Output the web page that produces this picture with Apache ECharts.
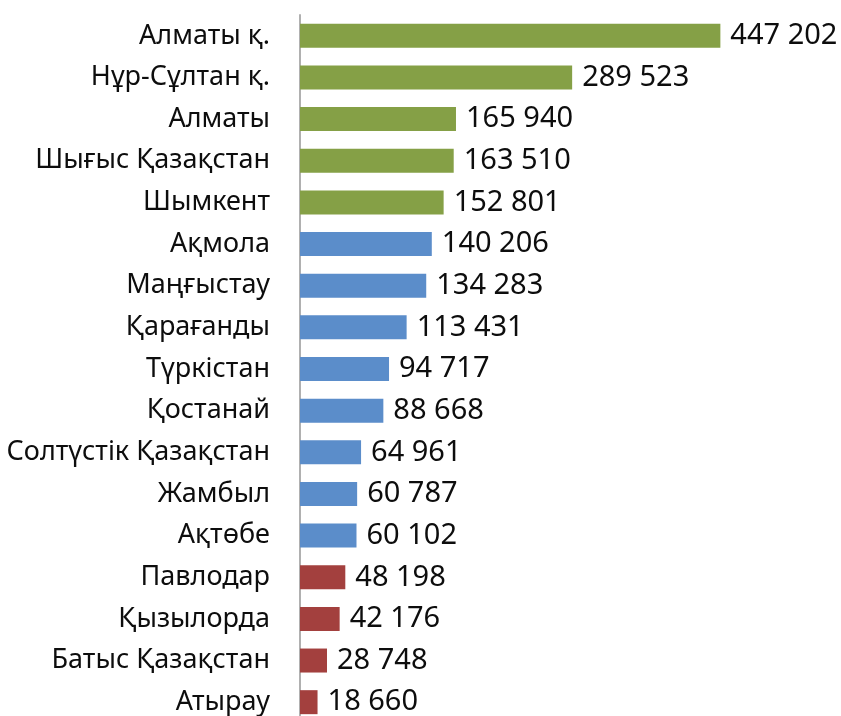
<!DOCTYPE html>
<html>
<head>
<meta charset="utf-8">
<script src="https://cdn.jsdelivr.net/npm/echarts@6/dist/echarts.min.js"></script>
<style>
  html, body { margin: 0; padding: 0; background: #fff; overflow: hidden; }
  #chart { width: 841px; height: 723px; }
</style>
</head>
<body>
<div id="chart"></div>
<script>
var categories = ['Алматы қ.', 'Нұр-Сұлтан қ.', 'Алматы', 'Шығыс Қазақстан', 'Шымкент',
  'Ақмола', 'Маңғыстау', 'Қарағанды', 'Түркістан', 'Қостанай', 'Солтүстік Қазақстан',
  'Жамбыл', 'Ақтөбе', 'Павлодар', 'Қызылорда', 'Батыс Қазақстан', 'Атырау'];
var values = [447202, 289523, 165940, 163510, 152801, 140206, 134283, 113431, 94717,
  88668, 64961, 60787, 60102, 48198, 42176, 28748, 18660];
// group of each bar: 0 green, 1 blue, 2 red
var groups = [0, 0, 0, 0, 0, 1, 1, 1, 1, 1, 1, 1, 1, 2, 2, 2, 2];
var groupColors = ['#85a046', '#5b8dca', '#a3403e'];

function fmt(v) {
  return String(v).replace(/\B(?=(\d{3})+(?!\d))/g, ' ');
}

// the last row runs past the bottom of the picture, so the div is a bit taller than the window
var chart = echarts.init(document.getElementById('chart'));
var option = {
  animation: false,
  grid: { left: 300, top: 15, right: 71, bottom: 0 },
  xAxis: {
    type: 'value',
    min: 0,
    max: 500000,
    show: false
  },
  yAxis: {
    type: 'category',
    inverse: true,
    data: categories,
    axisLine: { lineStyle: { color: '#b0b0b0', width: 2 } },
    axisTick: { length: 10, lineStyle: { color: '#b0b0b0', width: 2 } },
    axisLabel: {
      margin: 30,
      color: '#0d0d0d',
      fontFamily: 'Noto Sans',
      fontSize: 27
    }
  },
  series: [{
    type: 'bar',
    barWidth: 24,
    data: values.map(function (v, i) {
      return { value: v, itemStyle: { color: groupColors[groups[i]] } };
    }),
    label: {
      show: true,
      position: 'right',
      distance: 10,
      color: '#0d0d0d',
      fontFamily: 'Noto Sans',
      fontSize: 29,
      formatter: function (p) { return fmt(p.value); }
    }
  }]
};
chart.setOption(option);
</script>
</body>
</html>
